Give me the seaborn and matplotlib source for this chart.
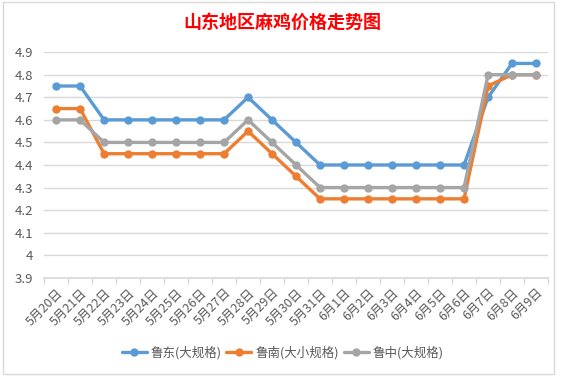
import matplotlib
matplotlib.use("Agg")
import matplotlib.pyplot as plt
import numpy as np
import pandas as pd
import seaborn as sns
from matplotlib.ticker import FixedLocator

dates = ["5月20日", "5月21日", "5月22日", "5月23日", "5月24日", "5月25日", "5月26日",
         "5月27日", "5月28日", "5月29日", "5月30日", "5月31日", "6月1日", "6月2日",
         "6月3日", "6月4日", "6月5日", "6月6日", "6月7日", "6月8日", "6月9日"]

ludong = [4.75, 4.75, 4.6, 4.6, 4.6, 4.6, 4.6, 4.6, 4.7, 4.6, 4.5, 4.4,
          4.4, 4.4, 4.4, 4.4, 4.4, 4.4, 4.7, 4.85, 4.85]
lunan = [4.65, 4.65, 4.45, 4.45, 4.45, 4.45, 4.45, 4.45, 4.55, 4.45, 4.35, 4.25,
         4.25, 4.25, 4.25, 4.25, 4.25, 4.25, 4.75, 4.8, 4.8]
luzhong = [4.6, 4.6, 4.5, 4.5, 4.5, 4.5, 4.5, 4.5, 4.6, 4.5, 4.4, 4.3,
           4.3, 4.3, 4.3, 4.3, 4.3, 4.3, 4.8, 4.8, 4.8]

series_names = ["鲁东(大规格)", "鲁南(大小规格)", "鲁中(大规格)"]
colors = ["#5B9BD5", "#ED7D31", "#A5A5A5"]

y_ticks = [3.9, 4.0, 4.1, 4.2, 4.3, 4.4, 4.5, 4.6, 4.7, 4.8, 4.9]
y_labels = ["3.9", "4", "4.1", "4.2", "4.3", "4.4", "4.5", "4.6", "4.7", "4.8", "4.9"]

df = pd.DataFrame({
    "idx": list(range(len(dates))) * 3,
    "price": ludong + lunan + luzhong,
    "series": [s for s in series_names for _ in dates],
})

sns.set_theme(style="white")
plt.rcParams["font.family"] = ["Noto Sans CJK SC", "DejaVu Sans"]

fig = plt.figure(figsize=(5.65, 3.78), dpi=100)
fig.patch.set_facecolor("white")
ax = fig.add_axes([0.078, 0.265, 0.892, 0.597])

sns.lineplot(data=df, x="idx", y="price", hue="series", palette=colors,
             marker="o", markersize=6, markeredgewidth=0, linewidth=2.4,
             ax=ax, legend=True)

ax.set_xlim(-0.5, len(dates) - 0.5)
ax.set_ylim(3.9, 4.9)
ax.set_yticks(y_ticks)
ax.set_yticklabels(y_labels)
ax.yaxis.grid(True, color="#D9D9D9", linewidth=1)
ax.set_axisbelow(True)

ax.set_xticks(range(len(dates)))
ax.set_xticklabels(dates, rotation=45, ha="right", rotation_mode="anchor")
ax.xaxis.set_minor_locator(FixedLocator(np.arange(-0.5, len(dates), 1.0)))
ax.tick_params(axis="x", which="major", length=0, pad=6, labelsize=9, colors="#595959")
ax.tick_params(axis="x", which="minor", length=4, color="#D9D9D9", bottom=True)
ax.tick_params(axis="y", length=0, labelsize=9.5, colors="#595959", pad=8)

for side in ["top", "right", "left"]:
    ax.spines[side].set_visible(False)
ax.spines["bottom"].set_color("#D9D9D9")
ax.set_xlabel("")
ax.set_ylabel("")

handles, labels = ax.get_legend_handles_labels()
ax.legend(handles, labels, loc="center", bbox_to_anchor=(0.5, 0.068),
          bbox_transform=fig.transFigure, ncol=3, frameon=False,
          fontsize=9, handlelength=2.0, columnspacing=0.4, handletextpad=0.3,
          labelcolor="#595959")

fig.text(0.5, 0.94, "山东地区麻鸡价格走势图", ha="center", va="center",
         fontsize=13, fontweight="bold", color="#FF0000")

fig.add_artist(plt.Rectangle((0.005, 0.01), 0.975, 0.985, transform=fig.transFigure,
                             fill=False, edgecolor="#D9D9D9", linewidth=1))

fig.savefig("out.png", dpi=100)
